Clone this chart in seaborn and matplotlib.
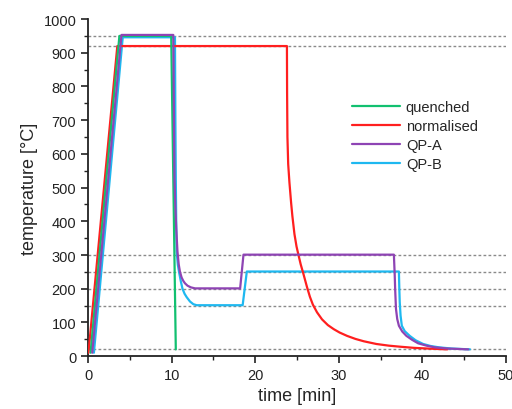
import matplotlib
matplotlib.use("Agg")
import matplotlib.pyplot as plt
from matplotlib.ticker import MultipleLocator
import seaborn as sns

quenched_t = [0.3, 3.75, 9.95, 10.5]
quenched_T = [10, 950, 950, 20]

normalised_t = [0.05, 3.5, 23.8, 23.82, 23.86, 23.95, 24.1, 24.3, 24.45, 24.7, 24.95, 25.2,
                25.45, 25.75, 26.2, 26.55, 26.9, 27.4, 28.0, 28.7, 29.4, 30.1, 31.0, 32.0,
                33.0, 34.5, 36.0, 37.3, 39.0, 41.0, 43.0]
normalised_T = [10, 920, 920, 780, 650, 570, 515, 455, 416, 362, 325, 298,
                272, 246, 205, 176, 153, 130, 109, 92, 80, 70, 60, 51,
                44, 36, 31, 28, 24.5, 22, 20]

qpa_t = [0.5, 4.0, 10.2, 10.25, 10.3, 10.35, 10.45, 10.55, 10.7, 10.85, 11.0, 11.2, 11.4,
         11.6, 11.9, 12.3, 12.8, 18.2, 18.6,
         36.6, 36.7, 36.75, 36.85, 37.0, 37.2, 37.6, 38.1, 38.8, 39.5, 40.5, 41.5, 43.0, 45.5]
qpa_T = [10, 953, 953, 800, 640, 525, 440, 380, 310, 272, 250, 233, 223,
         216, 209, 204, 201, 201, 301,
         301, 240, 200, 140, 110, 90, 73, 60, 48, 38, 31, 26, 22.5, 20]

qpb_t = [0.7, 4.15, 10.4, 10.45, 10.5, 10.55, 10.6, 10.75, 10.9, 11.1, 11.3, 11.55, 11.8,
         12.2, 12.6, 13.0, 18.5, 19.0,
         37.2, 37.25, 37.3, 37.4, 37.55, 37.9, 38.5, 39.2, 40.1, 41.0, 42.0, 43.5, 45.7]
qpb_T = [10, 946, 946, 700, 525, 400, 310, 270, 248, 222, 200, 185, 175,
         162, 154, 151, 151, 251,
         251, 200, 160, 120, 90, 74, 60, 47, 36, 30, 26, 22.5, 20]

ref_levels = [20, 150, 200, 250, 300, 920, 950]

series = [
    ("quenched", quenched_t, quenched_T, "#12c070"),
    ("normalised", normalised_t, normalised_T, "#ff1f1f"),
    ("QP-A", qpa_t, qpa_T, "#8e44b4"),
    ("QP-B", qpb_t, qpb_T, "#1eb8f0"),
]

sns.set_style("ticks")
plt.rcParams['font.family'] = ['Liberation Sans', 'DejaVu Sans']

fig, ax = plt.subplots(figsize=(5.12, 4.1), dpi=100)
fig.subplots_adjust(left=0.172, right=0.988, bottom=0.129, top=0.951)

for lvl in ref_levels:
    ax.plot([0, 50], [lvl, lvl], color="#8a8a8a", lw=1.0, ls=(0, (2, 1.6)), zorder=1)

# draw in reverse so purple ends up on top of cyan at the plateaus
for name, t, T, c in [series[3], series[1], series[0], series[2]]:
    sns.lineplot(x=t, y=T, ax=ax, sort=False, estimator=None, color=c, lw=1.6,
                 label=name, zorder=3)

handles, labels = ax.get_legend_handles_labels()
order = [labels.index(s[0]) for s in series]
ax.legend([handles[i] for i in order], [labels[i] for i in order],
          loc="upper left", bbox_to_anchor=(0.6, 0.8), frameon=False,
          fontsize=10.5, handlelength=3.3, handletextpad=0.4, labelspacing=0.35)

ax.set_xlim(0, 50)
ax.set_ylim(0, 1000)
ax.xaxis.set_major_locator(MultipleLocator(10))
ax.xaxis.set_minor_locator(MultipleLocator(5))
ax.yaxis.set_major_locator(MultipleLocator(100))
ax.yaxis.set_minor_locator(MultipleLocator(50))
ax.tick_params(which="major", direction="out", length=5, width=1.2, labelsize=10.5, colors="#222222")
ax.tick_params(which="minor", direction="out", length=3, width=1.0, colors="#222222")
for s in ["left", "bottom"]:
    ax.spines[s].set_linewidth(1.3)
    ax.spines[s].set_color("#222222")
sns.despine(ax=ax)

ax.set_xlabel("time [min]", fontsize=13)
ax.set_ylabel("temperature [°C]", fontsize=13)

plt.savefig("out.png", dpi=100)
